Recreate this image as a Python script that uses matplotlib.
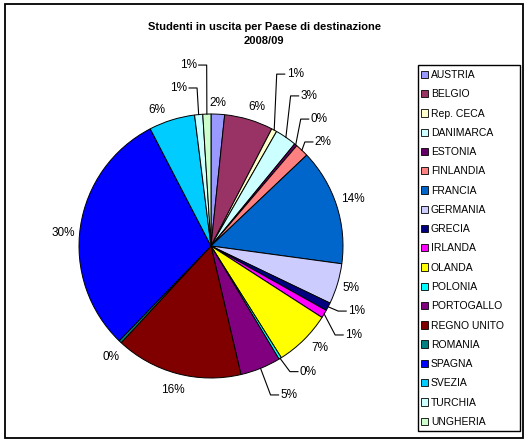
import matplotlib
matplotlib.use("Agg")
import matplotlib.pyplot as plt
from matplotlib.patches import Patch, Rectangle
import numpy as np

plt.rcParams['font.family'] = ['Liberation Sans', 'DejaVu Sans']

# data: students sent abroad per destination country (2008/09)
paesi = ["AUSTRIA", "BELGIO", "Rep. CECA", "DANIMARCA", "ESTONIA", "FINLANDIA",
         "FRANCIA", "GERMANIA", "GRECIA", "IRLANDA", "OLANDA", "POLONIA",
         "PORTOGALLO", "REGNO UNITO", "ROMANIA", "SPAGNA", "SVEZIA", "TURCHIA",
         "UNGHERIA"]
studenti = [5, 18, 2, 8, 1, 5, 43, 15, 3, 3, 21, 1, 15, 47, 1, 91, 17, 3, 3]

# Excel 2003 default pie palette
colori = ["#9999FF", "#993366", "#FFFFCC", "#CCFFFF", "#660066", "#FF8080",
          "#0066CC", "#CCCCFF", "#000080", "#FF00FF", "#FFFF00", "#00FFFF",
          "#800080", "#800000", "#008080", "#0000FF", "#00CCFF", "#CCFFFF",
          "#CCFFCC"]

# label placement relative to the slice edge, in pixels (dx right, dy down)
# side 0 = plain label centred at offset, +1/-1 = leader line with elbow at offset
label_pos = [
    (0, -11, 0),        # AUSTRIA
    (8, -12.5, 0),      # BELGIO
    (2.5, -56, 1),      # Rep. CECA
    (4.7, -41.4, 1),    # DANIMARCA
    (5, -25.7, 1),      # ESTONIA
    (3, -8.3, 1),       # FINLANDIA
    (16.4, -6.5, 0),    # FRANCIA
    (13.5, 4, 0),       # GERMANIA
    (10, 4.3, 1),       # GRECIA
    (11, 21, 1),        # IRLANDA
    (16, 8, 0),         # OLANDA
    (9.8, 13.2, 1),     # POLONIA
    (10, 26.6, 1),      # PORTOGALLO
    (-4, 16.5, 0),      # REGNO UNITO
    (-9, 15, 0),        # ROMANIA
    (-17, 6, 0),        # SPAGNA
    (-15, -10, 0),      # SVEZIA
    (-1.6, -26.6, -1),  # TURCHIA
    (-0.2, -49, -1),    # UNGHERIA
]

W, H = 528, 444
DPI = 100
fig = plt.figure(figsize=(W / DPI, H / DPI), dpi=DPI)
ax = fig.add_axes([0, 0, 1, 1])

CX, CY, R = 211, H - 246, 132

wedges, _ = ax.pie(studenti, colors=colori, startangle=90, counterclock=False,
                   center=(CX, CY), radius=R, frame=True,
                   wedgeprops=dict(edgecolor="black", linewidth=0.7))
ax.set_xlim(0, W)
ax.set_ylim(0, H)
ax.axis("off")

totale = sum(studenti)
for w, v, (dx, dy, side) in zip(wedges, studenti, label_pos):
    a = np.deg2rad((w.theta1 + w.theta2) / 2)
    ex, ey = CX + R * np.cos(a), CY + R * np.sin(a)
    txt = "%d%%" % round(100 * v / totale)
    if side == 0:
        ax.text(ex + dx, ey - dy, txt, ha="center", va="center", fontsize=8.5)
    else:
        kx, ky = ex + dx, ey - dy
        ax.plot([ex, kx, kx + side * 8], [ey, ky, ky], color="black", lw=0.8)
        ax.text(kx + side * 10, ky, txt, ha="left" if side > 0 else "right",
                va="center", fontsize=8.5)

ax.text(264, H - 34, "Studenti in uscita per Paese di destinazione\n2008/09",
        ha="center", va="center", fontsize=8, fontweight="bold", linespacing=1.6)

# legend with Excel-like box
handles = [Patch(facecolor=c, edgecolor="black", linewidth=0.6) for c in colori]
ax.legend(handles, paesi, loc="upper left", bbox_to_anchor=(421 / W, 1 - 70 / H),
          frameon=False, fontsize=7.5, handlelength=0.7, handleheight=0.7,
          handletextpad=0.25, labelspacing=0.89, borderpad=0, borderaxespad=0)
ax.add_patch(Rectangle((418, H - 431), 102, 366, fill=False, edgecolor="black",
                       linewidth=1, clip_on=False))

# outer chart frame
ax.add_patch(Rectangle((5, H - 438), 518, 434, fill=False, edgecolor="black",
                       linewidth=1.3, clip_on=False))

fig.savefig("out.png", dpi=DPI)
